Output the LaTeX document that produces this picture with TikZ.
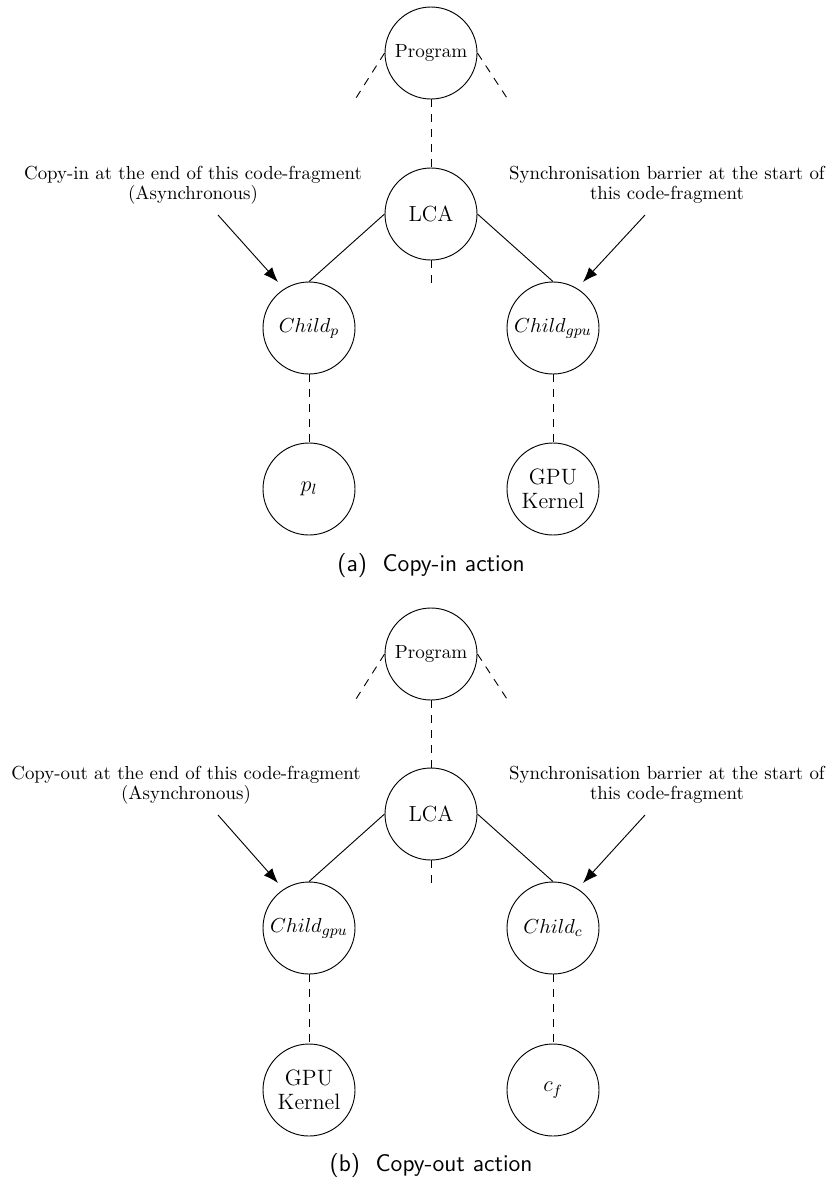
\documentclass[tikz,border=0pt]{standalone}
\usetikzlibrary{arrows.meta,calc}
\begin{document}
\begin{tikzpicture}[x=0.54054pt,y=-0.54054pt,
  treenode/.style={draw,circle,line width=0.5pt,minimum size=49.73pt,inner sep=1pt,align=center},
  solidedge/.style={line width=0.5pt},
  dashedge/.style={line width=0.5pt,dash pattern=on 4.3pt off 3.8pt},
  annot/.style={align=center,font=\fontsize{10.2}{10.6}\selectfont},
  pointer/.style={line width=0.5pt,-{Latex[length=8pt,width=6pt]}},
  capt/.style={font=\sffamily\fontsize{13}{15}\selectfont}]
\useasboundingbox (0,0) rectangle (830,1181);

% ---------- (a) copy-in ----------
\node[treenode,font=\fontsize{10.3}{12}\selectfont] (prgA) at (431,53) {Program};
\node[treenode,font=\fontsize{11.8}{13}\selectfont] (lcaA) at (431,214) {LCA};
\node[treenode,font=\fontsize{11}{13}\selectfont] (cpA) at (309,328) {$Child_p$};
\node[treenode,font=\fontsize{11}{13}\selectfont] (cgA) at (553,328) {$Child_{gpu}$};
\node[treenode,font=\fontsize{11.5}{13}\selectfont] (plA) at (309,489) {$p_l$};
\node[treenode,font=\fontsize{12}{13}\selectfont] (gkA) at (553,489) {GPU\\Kernel};

\coordinate (prgAl) at (356,98);
\coordinate (prgAr) at (507,98);
\coordinate (lcaAd) at (431,283);
\draw[dashedge] (prgA.west) -- (prgAl);
\draw[dashedge] (prgA.east) -- (prgAr);
\draw[dashedge] (prgA.south) -- (lcaA.north);
\draw[dashedge] (lcaA.south) -- (lcaAd);
\draw[solidedge] (lcaA.west) -- (cpA.north);
\draw[solidedge] (lcaA.east) -- (cgA.north);
\draw[dashedge] (cpA.south) -- (plA.north);
\draw[dashedge] (cgA.south) -- (gkA.north);

\node[annot] (noteAl) at (193,185) {Copy-in at the end of this code-fragment\\(Asynchronous)};
\node[annot] (noteAr) at (667,185) {Synchronisation barrier at the start of\\this code-fragment};
\coordinate (noteAlS) at (218,215);
\coordinate (noteArS) at (645,215);
\coordinate (tipAl) at (278,282);
\coordinate (tipAr) at (583,282);
\draw[pointer] (noteAlS) -- (tipAl);
\draw[pointer] (noteArS) -- (tipAr);

\node[capt] (captA) at (431,565) {(a)\ \ Copy-in action};

% ---------- (b) copy-out ----------
\node[treenode,font=\fontsize{10.3}{12}\selectfont] (prgB) at (431,654) {Program};
\node[treenode,font=\fontsize{11.8}{13}\selectfont] (lcaB) at (431,814) {LCA};
\node[treenode,font=\fontsize{11}{13}\selectfont] (cgB) at (309,928) {$Child_{gpu}$};
\node[treenode,font=\fontsize{11}{13}\selectfont] (ccB) at (553,928) {$Child_c$};
\node[treenode,font=\fontsize{12}{13}\selectfont] (gkB) at (309,1090) {GPU\\Kernel};
\node[treenode,font=\fontsize{11.5}{13}\selectfont] (cfB) at (553,1090) {$c_f$};

\coordinate (prgBl) at (356,699);
\coordinate (prgBr) at (507,699);
\coordinate (lcaBd) at (431,883);
\draw[dashedge] (prgB.west) -- (prgBl);
\draw[dashedge] (prgB.east) -- (prgBr);
\draw[dashedge] (prgB.south) -- (lcaB.north);
\draw[dashedge] (lcaB.south) -- (lcaBd);
\draw[solidedge] (lcaB.west) -- (cgB.north);
\draw[solidedge] (lcaB.east) -- (ccB.north);
\draw[dashedge] (cgB.south) -- (gkB.north);
\draw[dashedge] (ccB.south) -- (cfB.north);

\node[annot] (noteBl) at (186,785) {Copy-out at the end of this code-fragment\\(Asynchronous)};
\node[annot] (noteBr) at (667,785) {Synchronisation barrier at the start of\\this code-fragment};
\coordinate (noteBlS) at (218,815);
\coordinate (noteBrS) at (645,815);
\coordinate (tipBl) at (278,883);
\coordinate (tipBr) at (583,883);
\draw[pointer] (noteBlS) -- (tipBl);
\draw[pointer] (noteBrS) -- (tipBr);

\node[capt] (captB) at (431,1165) {(b)\ \ Copy-out action};
\end{tikzpicture}
\end{document}
